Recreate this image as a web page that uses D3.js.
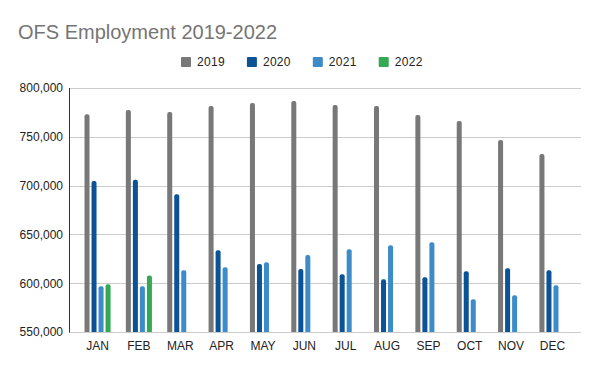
<!DOCTYPE html>
<html>
<head>
<meta charset="utf-8">
<script src="https://cdn.jsdelivr.net/npm/d3@7"></script>
<style>
  html, body { margin: 0; padding: 0; background: #fff; }
  svg { display: block; font-family: "Liberation Sans", Arial, sans-serif; }
</style>
</head>
<body>
<svg id="chart" width="600" height="371"></svg>
<script>
const title = "OFS Employment 2019-2022";
const months = ["JAN","FEB","MAR","APR","MAY","JUN","JUL","AUG","SEP","OCT","NOV","DEC"];
const seriesNames = ["2019","2020","2021","2022"];
const seriesColors = ["#787878","#0b5394","#3d8cc9","#34a853"];
const values2019 = [773000,777400,775400,781500,784600,786600,782500,781500,772300,766100,746600,732300];
const values2020 = [704600,705900,691200,633800,619800,614600,609100,604000,606100,612200,615300,613300];
const values2021 = [596900,596900,613300,616300,621500,629000,634900,638900,642000,583500,587600,597900];
const values2022 = [598900,608000,null,null,null,null,null,null,null,null,null,null];
const yTicks = [550000,600000,650000,700000,750000,800000];

const allSeries = [values2019, values2020, values2021, values2022];

const svg = d3.select("#chart");
const plot = {left: 69, right: 581, top: 88, bottom: 332};

const x = d3.scaleBand().domain(months).range([plot.left, plot.right])
  .paddingInner(0.37).paddingOuter(0.375);
const xs = d3.scaleBand().domain(seriesNames).range([0, x.bandwidth()])
  .paddingInner(2/7).paddingOuter(0);
const y = d3.scaleLinear().domain([550000, 800000]).range([plot.bottom, plot.top]);

// Title
svg.append("text").attr("x", 18).attr("y", 39)
  .attr("font-size", 20).attr("fill", "#757575").text(title);

// Gridlines
svg.append("g").selectAll("line").data(yTicks).join("line")
  .attr("x1", plot.left).attr("x2", plot.right)
  .attr("y1", d => Math.round(y(d)) + 0.5).attr("y2", d => Math.round(y(d)) + 0.5)
  .attr("stroke", "#cccccc").attr("stroke-width", 1);

// Y axis labels
const yAxis = d3.axisLeft(y).tickValues(yTicks).tickSize(0).tickPadding(6)
  .tickFormat(d3.format(","));
const yg = svg.append("g").attr("transform", `translate(${plot.left},0)`).call(yAxis);
yg.select(".domain").remove();
yg.selectAll("text").attr("font-size", 12).attr("fill", "#222")
  .attr("font-family", "Liberation Sans, Arial, sans-serif");

// X axis labels
const xAxis = d3.axisBottom(x).tickSize(0).tickPadding(9);
const xg = svg.append("g").attr("transform", `translate(0,${plot.bottom})`).call(xAxis);
xg.select(".domain").remove();
xg.selectAll("text").attr("font-size", 12).attr("fill", "#222")
  .attr("font-family", "Liberation Sans, Arial, sans-serif");

// Bars
function barPath(x0, w, yTop, yBot) {
  const r = Math.min(2, w / 2);
  return `M${x0},${yBot}V${yTop + r}Q${x0},${yTop} ${x0 + r},${yTop}H${x0 + w - r}Q${x0 + w},${yTop} ${x0 + w},${yTop + r}V${yBot}Z`;
}
const barData = [];
months.forEach((m, i) => {
  seriesNames.forEach((s, j) => {
    const v = allSeries[j][i];
    if (v != null) barData.push({m, s, v, c: seriesColors[j]});
  });
});
svg.append("g").selectAll("path").data(barData).join("path")
  .attr("d", d => barPath(x(d.m) + xs(d.s), xs.bandwidth(), y(d.v), y(550000)))
  .attr("fill", d => d.c);

// Left axis line
svg.append("line").attr("x1", plot.left + 0.5).attr("x2", plot.left + 0.5)
  .attr("y1", plot.top).attr("y2", plot.bottom + 0.5)
  .attr("stroke", "#333").attr("stroke-width", 1);

// Legend
const legend = svg.append("g");
let lx = 0;
const gap = 22;
seriesNames.forEach((s, i) => {
  const g = legend.append("g");
  g.append("rect").attr("x", 0).attr("y", -5).attr("width", 10).attr("height", 10)
    .attr("rx", 1).attr("fill", seriesColors[i]);
  const t = g.append("text").attr("x", 16).attr("y", 0).attr("dy", "0.35em")
    .attr("font-size", 12).attr("letter-spacing", 0.3).attr("fill", "#222").text(s);
  const w = 16 + t.node().getComputedTextLength();
  g.attr("transform", `translate(${lx},0)`);
  lx += w + gap;
});
const totalW = lx - gap;
legend.attr("transform", `translate(${Math.round(302 - totalW / 2)},62)`);
</script>
</body>
</html>
